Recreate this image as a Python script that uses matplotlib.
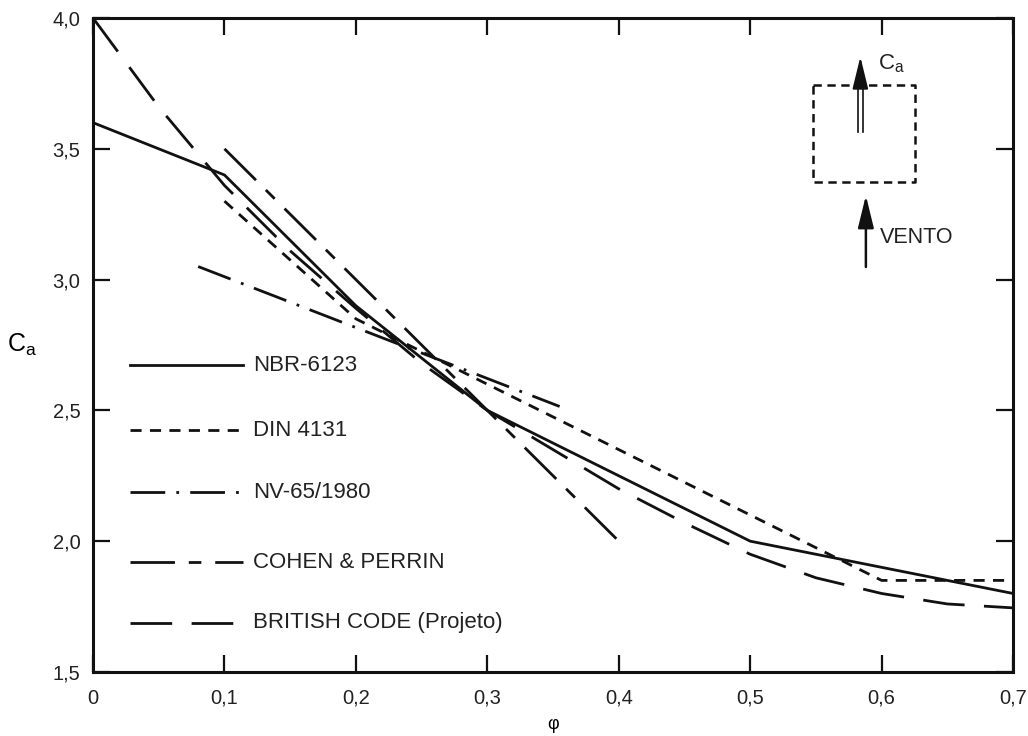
import matplotlib
matplotlib.use("Agg")
import matplotlib.pyplot as plt

plt.rcParams["font.family"] = ["Liberation Sans", "DejaVu Sans"]
plt.rcParams["mathtext.fontset"] = "custom"
plt.rcParams["mathtext.rm"] = "Liberation Sans"
plt.rcParams["mathtext.it"] = "Liberation Sans"
plt.rcParams["lines.scale_dashes"] = False

# values (phi -> Ca)
nbr_phi = [0.0, 0.1, 0.2, 0.3, 0.5, 0.7]
nbr_ca = [3.6, 3.4, 2.9, 2.5, 2.0, 1.8]

din_phi = [0.1, 0.2, 0.3, 0.4, 0.5, 0.6, 0.7]
din_ca = [3.3, 2.85, 2.6, 2.35, 2.1, 1.85, 1.85]

nv_phi = [0.08, 0.355]
nv_ca = [3.05, 2.515]

cohen_phi = [0.1, 0.4]
cohen_ca = [3.5, 2.0]

british_phi = [0.0, 0.05, 0.1, 0.15, 0.2, 0.25, 0.3, 0.35, 0.4, 0.45, 0.5, 0.55, 0.6, 0.65, 0.7]
british_ca = [4.0, 3.66, 3.36, 3.11, 2.89, 2.68, 2.5, 2.35, 2.2, 2.07, 1.95, 1.86, 1.8, 1.76, 1.745]

labels = ["NBR-6123", "DIN 4131", "NV-65/1980", "COHEN & PERRIN", "BRITISH CODE (Projeto)"]

x_ticks = [0, 0.1, 0.2, 0.3, 0.4, 0.5, 0.6, 0.7]
x_tick_labels = ["0", "0,1", "0,2", "0,3", "0,4", "0,5", "0,6", "0,7"]
y_ticks = [1.5, 2.0, 2.5, 3.0, 3.5, 4.0]
y_tick_labels = ["1,5", "2,0", "2,5", "3,0", "3,5", "4,0"]

styles = [
    "-",
    (0, (8, 6)),
    (0, (25, 8, 2, 8)),
    (0, (32, 10, 9, 10)),
    (0, (30, 14)),
]
series = [
    (nbr_phi, nbr_ca),
    (din_phi, din_ca),
    (nv_phi, nv_ca),
    (cohen_phi, cohen_ca),
    (british_phi, british_ca),
]

fig = plt.figure(figsize=(10.28, 7.36), dpi=100)
ax = fig.add_axes([0.0905, 0.087, 0.895, 0.8885])

lw = 2.0
for (xs, ys), ls in zip(series, styles):
    ax.plot(xs, ys, color="#111111", linestyle=ls, linewidth=lw, solid_capstyle="butt")

# hand-drawn style legend at the left
leg_y = [0.469, 0.370, 0.275, 0.168, 0.075]
for yy, ls, lab in zip(leg_y, styles, labels):
    ax.plot([0.040, 0.163], [yy, yy], transform=ax.transAxes, color="#111111",
            linestyle=ls, linewidth=lw)
    ax.text(0.174, yy, lab, transform=ax.transAxes, fontsize=16, va="center",
            ha="left", color="#222222")

ax.set_xlim(0, 0.7)
ax.set_ylim(1.5, 4.0)
ax.set_xticks(x_ticks)
ax.set_xticklabels(x_tick_labels)
ax.set_yticks(y_ticks)
ax.set_yticklabels(y_tick_labels)
ax.tick_params(direction="in", length=12, width=1.6, top=True, right=True,
               labelsize=14.5, colors="#111111", labelcolor="#222222")
ax.tick_params(axis="x", pad=12)
ax.tick_params(axis="y", pad=9)
for sp in ax.spines.values():
    sp.set_linewidth(2.2)
    sp.set_color("#111111")

ax.set_xlabel("φ", fontsize=13, labelpad=6)
ax.set_ylabel("C$_\\mathrm{a}$", fontsize=18, rotation=0, labelpad=22, va="center")

# inset sketch: tower section, wind and force direction
ax.plot([0.783, 0.893, 0.893, 0.783, 0.783], [0.8976, 0.8976, 0.749, 0.749, 0.8976],
        transform=ax.transAxes, color="#111111", linestyle=(0, (6, 4)), linewidth=1.8)
for dx in (-0.0025, 0.0025):
    ax.plot([0.834 + dx, 0.834 + dx], [0.826, 0.905], transform=ax.transAxes,
            color="#111111", linewidth=1.2)
ax.annotate("", xy=(0.834, 0.945), xytext=(0.834, 0.900), xycoords="axes fraction",
            arrowprops=dict(arrowstyle="-|>,head_length=0.9,head_width=0.22",
                            mutation_scale=22, color="#111111", lw=1.5))
ax.text(0.853, 0.93, "C$_\\mathrm{a}$", transform=ax.transAxes, fontsize=16,
        va="center", ha="left", color="#222222")
ax.annotate("", xy=(0.840, 0.733), xytext=(0.840, 0.615), xycoords="axes fraction",
            arrowprops=dict(arrowstyle="-|>,head_length=0.9,head_width=0.22",
                            mutation_scale=22, color="#111111", lw=1.8))
ax.text(0.855, 0.664, "VENTO", transform=ax.transAxes, fontsize=15.5,
        va="center", ha="left", color="#222222")

fig.savefig("out.png", dpi=100)
